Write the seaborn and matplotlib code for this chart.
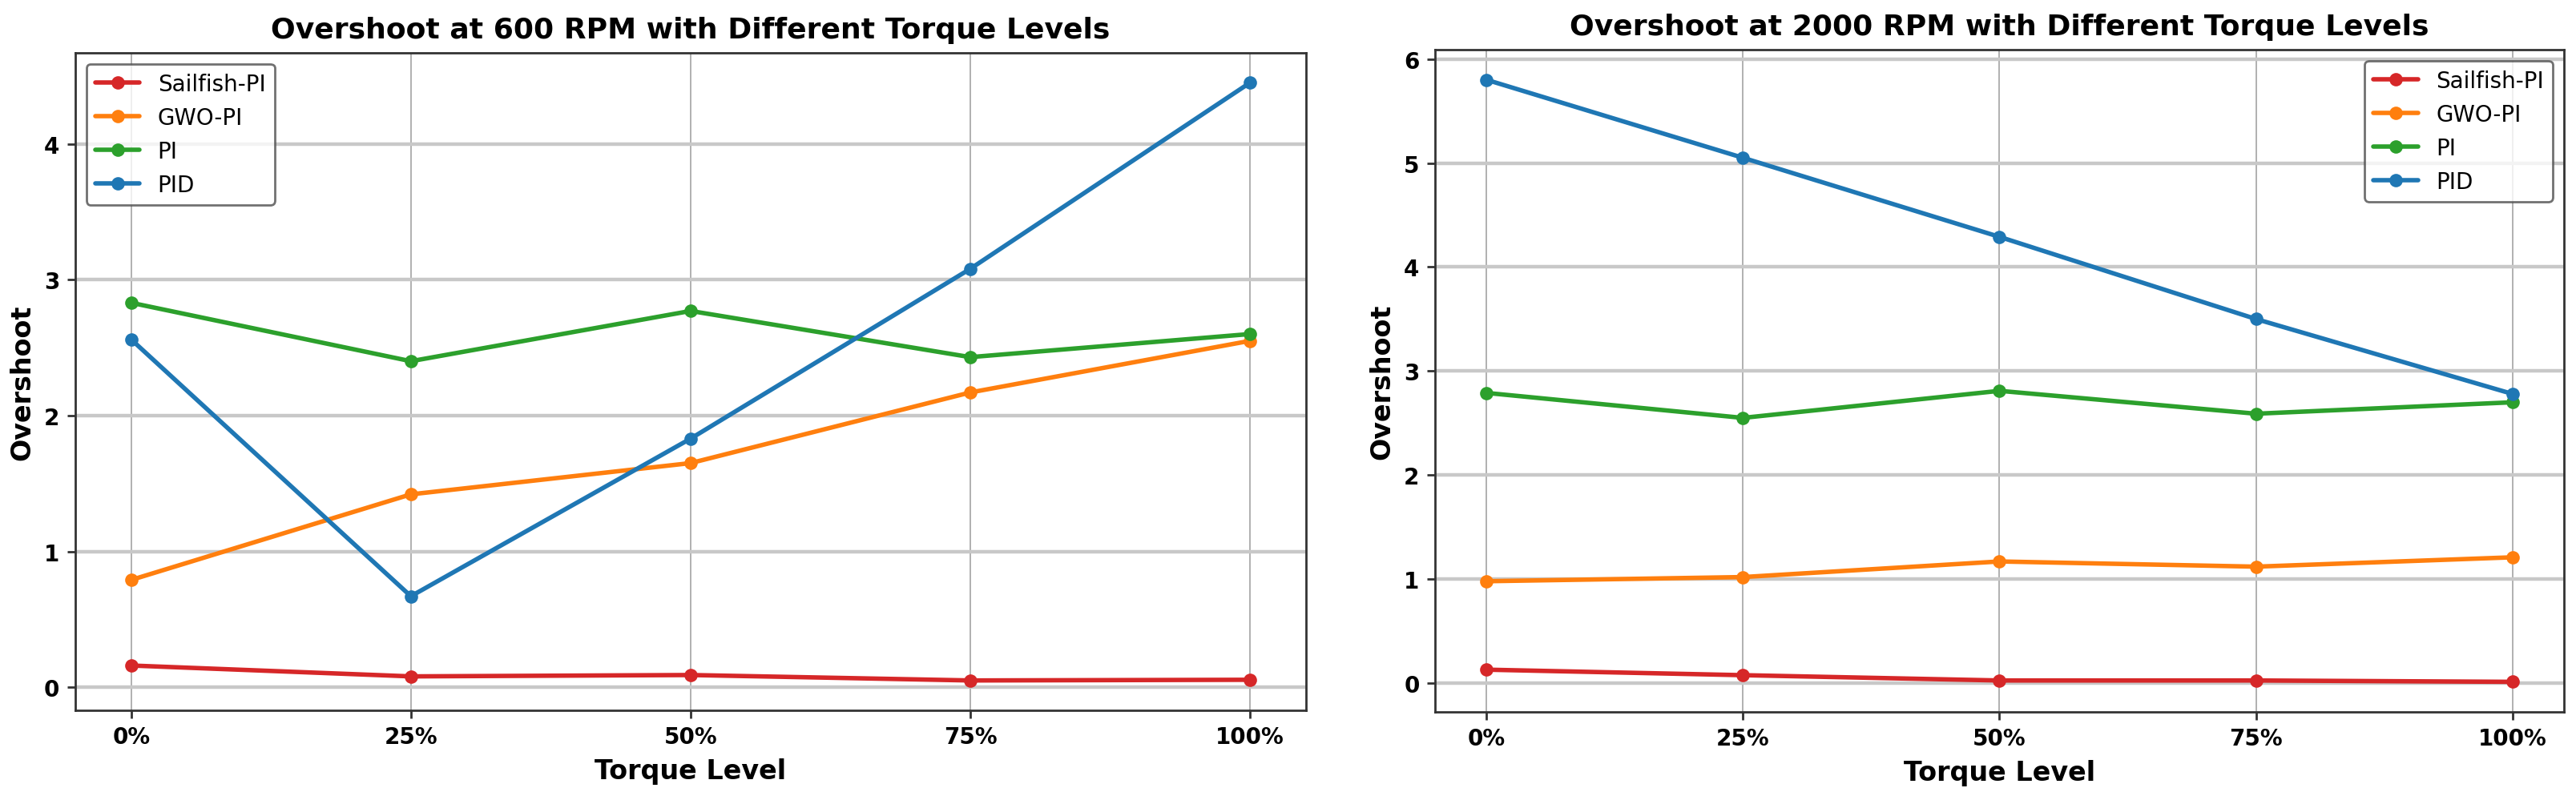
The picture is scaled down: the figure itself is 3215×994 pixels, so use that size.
import numpy as np
import pandas as pd
import seaborn as sns
import matplotlib.pyplot as plt

# Torque levels (x categories)
torque_labels = ['0%', '25%', '50%', '75%', '100%']
controllers = ['Sailfish-PI', 'GWO-PI', 'PI', 'PID']
colors = ['#d62728', '#ff7f0e', '#2ca02c', '#1f77b4']

# Overshoot at 600 RPM
sailfish_600 = [0.16, 0.08, 0.09, 0.05, 0.055]
gwo_600 = [0.79, 1.42, 1.65, 2.17, 2.55]
pi_600 = [2.83, 2.40, 2.77, 2.43, 2.60]
pid_600 = [2.56, 0.67, 1.83, 3.08, 4.45]

# Overshoot at 2000 RPM
sailfish_2000 = [0.13, 0.077, 0.026, 0.026, 0.013]
gwo_2000 = [0.98, 1.02, 1.17, 1.12, 1.21]
pi_2000 = [2.79, 2.55, 2.81, 2.59, 2.70]
pid_2000 = [5.80, 5.05, 4.29, 3.50, 2.78]

sns.set_style('whitegrid')
plt.rcParams['font.family'] = ['DejaVu Sans']
plt.rcParams['axes.edgecolor'] = '0.2'
plt.rcParams['xtick.bottom'] = True
plt.rcParams['ytick.left'] = True
plt.rcParams['text.color'] = 'black'
plt.rcParams['axes.labelcolor'] = 'black'
plt.rcParams['xtick.color'] = 'black'
plt.rcParams['ytick.color'] = 'black'

fig = plt.figure(figsize=(16.08, 4.975), dpi=200)
ax1 = fig.add_axes([0.0292, 0.1075, 0.4776, 0.8252])
ax2 = fig.add_axes([0.5569, 0.1055, 0.4381, 0.8312])

panels = [
    (ax1, [sailfish_600, gwo_600, pi_600, pid_600],
     'Overshoot at 600 RPM with Different Torque Levels', 'upper left'),
    (ax2, [sailfish_2000, gwo_2000, pi_2000, pid_2000],
     'Overshoot at 2000 RPM with Different Torque Levels', 'upper right'),
]

x = np.arange(len(torque_labels))
for ax, series, title, loc in panels:
    for name, vals, c in zip(controllers, series, colors):
        df = pd.DataFrame({'x': x, 'y': vals})
        sns.lineplot(x='x', y='y', data=df, ax=ax, label=name, color=c,
                     marker='o', markersize=6, markeredgewidth=0, linewidth=2)
    ax.set_xticks(x)
    ax.set_xticklabels(torque_labels)
    ax.margins(x=0.05, y=0.05)
    ax.set_title(title, fontsize=13, fontweight='bold', pad=7)
    ax.set_xlabel('Torque Level', fontsize=12, fontweight='bold')
    ax.set_ylabel('Overshoot', fontsize=12, fontweight='bold')
    ax.tick_params(axis='both', labelsize=10, length=3.5, width=1, color='0.2')
    for lab in ax.get_xticklabels() + ax.get_yticklabels():
        lab.set_fontweight('bold')
    ax.yaxis.grid(True, color='#c8c8c8', linewidth=1.6)
    ax.xaxis.grid(True, color='#b0b0b0', linewidth=0.7)
    for sp in ax.spines.values():
        sp.set_color('0.2')
        sp.set_linewidth(1)
    leg = ax.legend(loc=loc, fontsize=10, frameon=True)
    leg.get_frame().set_edgecolor('0.3')

plt.savefig('out.png', dpi=200)
